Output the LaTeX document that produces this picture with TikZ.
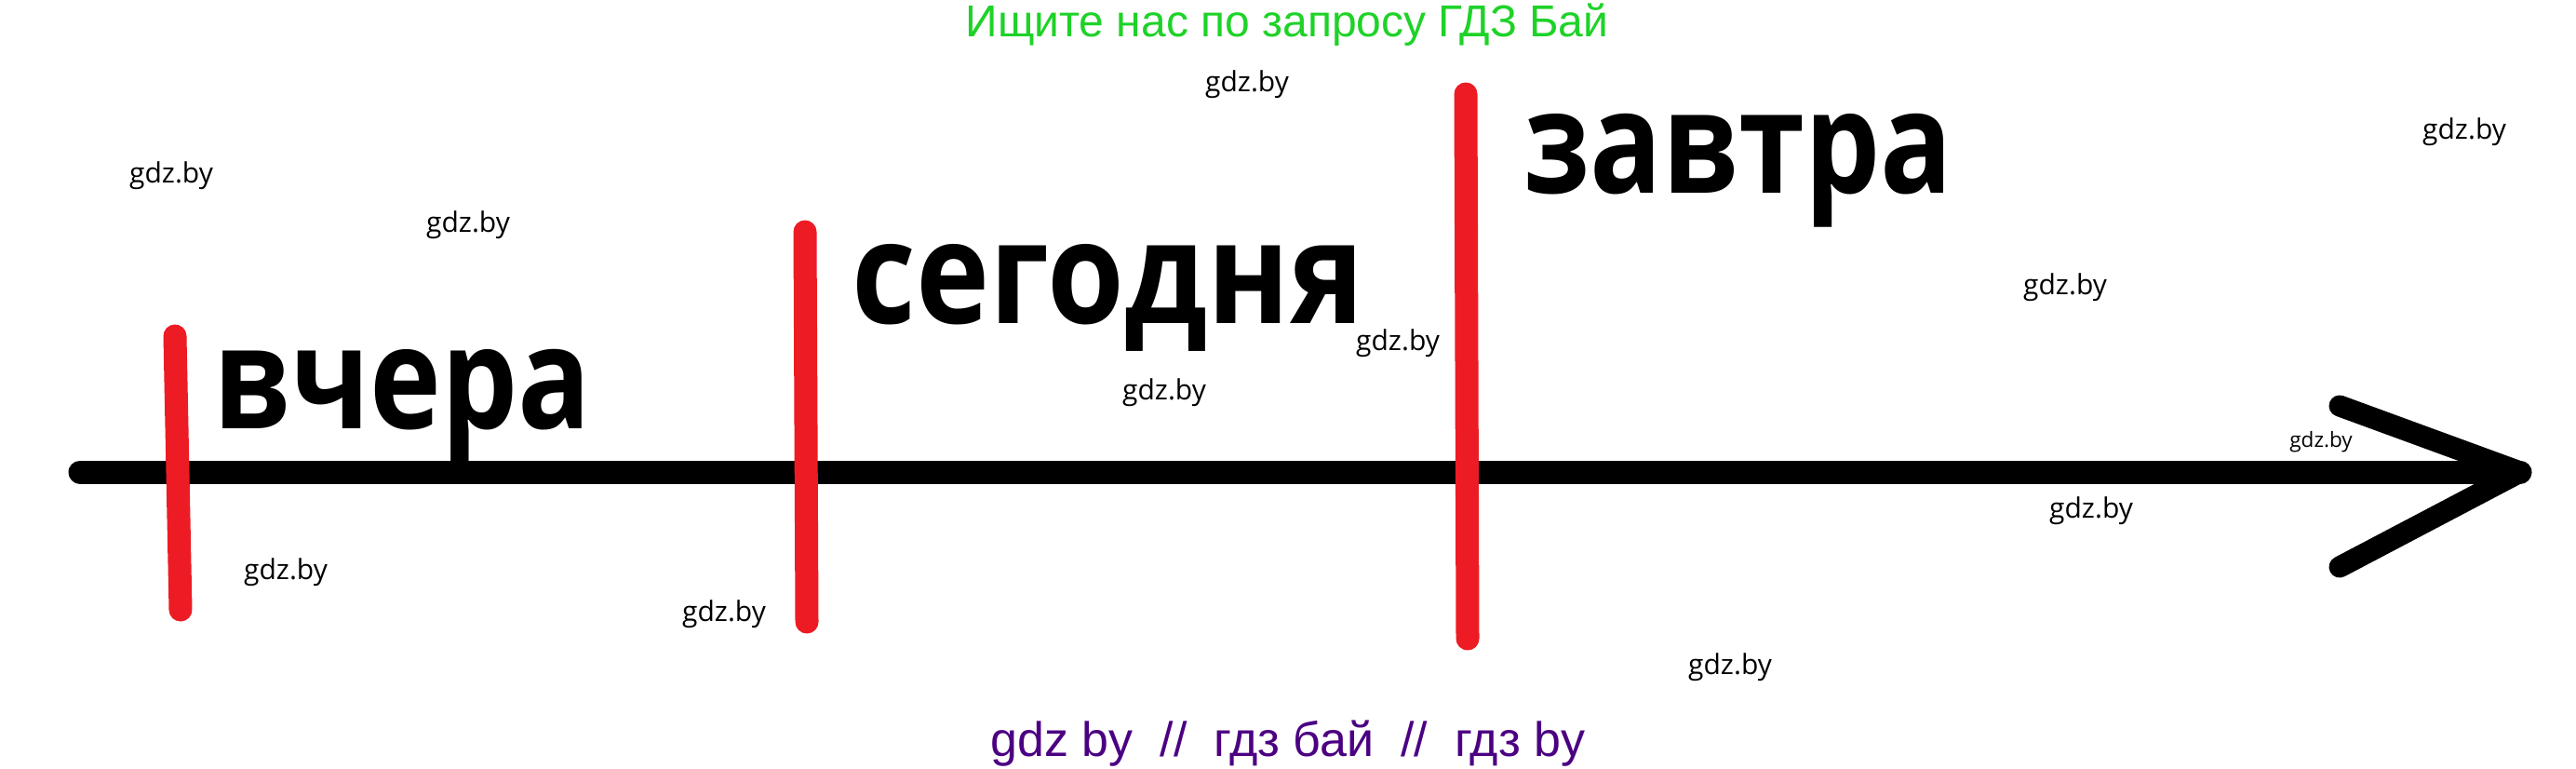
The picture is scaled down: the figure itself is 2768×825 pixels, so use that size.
\documentclass[tikz,border=0pt]{standalone}
\usepackage{fontspec}
\setmainfont{Liberation Sans}
\newfontfamily\wordfont{Open Sans}
\newfontfamily\gdzfont{Open Sans}
\definecolor{paintred}{RGB}{237,28,36}
\definecolor{searchgreen}{RGB}{30,210,40}
\definecolor{footpurple}{RGB}{75,0,130}

\begin{document}
\begin{tikzpicture}[x = 1pt, y = -1pt,
    axis/.style = {draw = black, line width = 25pt, line cap = round, line join = round},
    tick/.style = {draw = paintred, line width = 25pt, line cap = round},
    word/.style = {anchor = base west, inner sep = 0pt,
        font = \wordfont\bfseries\fontsize{153}{160}\selectfont},
    gdz/.style = {anchor = base, inner sep = 0pt, font = \gdzfont\fontsize{30}{34}\selectfont}]
    \useasboundingbox (0,0) rectangle (2768,825);

    % time axis with open arrow head
    \coordinate (start) at (86,507);
    \coordinate (tip) at (2708,507);
    \coordinate (upper) at (2514,436);
    \coordinate (lower) at (2514,609);
    \draw[axis] (start) -- (tip);
    \draw[axis, line width = 23pt] (upper) -- (tip) -- (lower);

    % red marks
    \draw[tick] (188,361) -- (194,655);
    \draw[tick] (865,249) -- (867,668);
    \draw[tick] (1575,101) -- (1577,686);

    % words
    \node[word] (yesterday) at (229,460) {\scalebox{0.85}[1]{вчера}};
    \node[word] (today) at (915,347) {\scalebox{0.875}[1]{сегодня}};
    \node[word] (tomorrow) at (1637,207) {\scalebox{0.84}[1]{завтра}};

    % watermarks
    \foreach \x/\y [count = \i] in {184/196, 503/249, 1340/98, 2648/149, 2219/316, 1502/376,
        1251/429, 2247/556, 307/622, 778/667, 1859/724}
        \node[gdz] (gdz\i) at (\x,\y) {gdz.by};
    \node[gdz, font = \gdzfont\fontsize{22.5}{26}\selectfont] (gdzsmall) at (2494,480) {gdz.by};

    % header and footer
    \node[anchor = base, inner sep = 0pt, text = searchgreen, font = \fontsize{48}{52}\selectfont]
        (search) at (1383,39) {Ищите нас по запросу ГДЗ Бай};
    \node[anchor = base, inner sep = 0pt, text = footpurple, font = \fontsize{52}{58}\selectfont]
        (footer) at (1384,812) {gdz by\ \ //\ \ гдз бай\ \ //\ \ гдз by};
\end{tikzpicture}
\end{document}
